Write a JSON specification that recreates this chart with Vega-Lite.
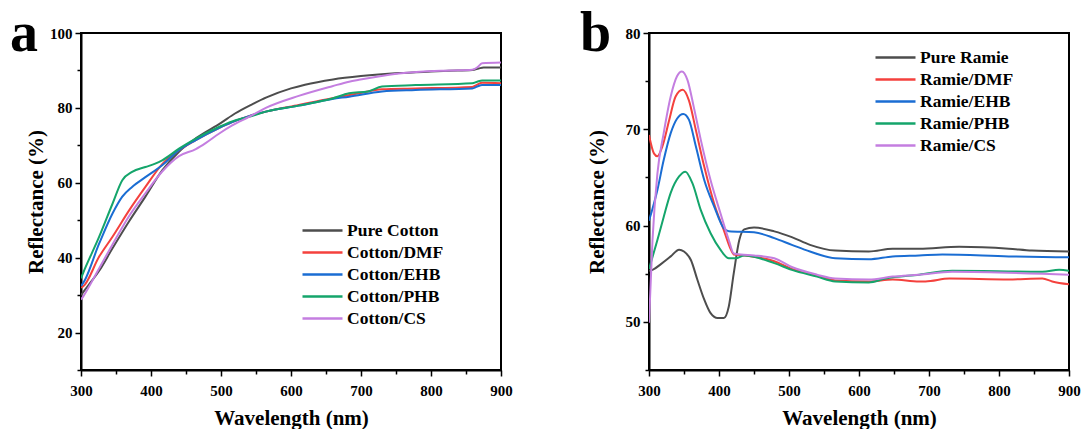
{
  "$schema": "https://vega.github.io/schema/vega-lite/v6.json",
  "background": "white",
  "padding": {"left": 9, "top": 5, "right": 5, "bottom": 0},
  "config": {
    "font": "Liberation Serif",
    "view": {"stroke": "black", "strokeWidth": 2},
    "axis": {
      "grid": false,
      "domainColor": "black", "domainWidth": 2,
      "tickColor": "black", "tickWidth": 1.5,
      "labelFont": "Liberation Serif", "labelFontSize": 15, "labelFontWeight": "bold", "labelColor": "black",
      "titleFont": "Liberation Serif", "titleFontSize": 21, "titleFontWeight": "bold", "titleColor": "black"
    },
    "legend": {
      "orient": "none", "title": null, "padding": 0,
      "symbolType": "M-2,0H2", "symbolSize": 400, "symbolStrokeWidth": 2.5,
      "labelFont": "Liberation Serif", "labelFontSize": 17.5, "labelFontWeight": "bold", "labelColor": "black",
      "rowPadding": 2, "labelOffset": 13
    }
  },
  "datasets": {
    "cotton": [
      {"sample": "Pure Cotton", "nm": 300, "R": 30.0}, {"sample": "Pure Cotton", "nm": 310, "R": 32.5}, {"sample": "Pure Cotton", "nm": 326, "R": 36.5}, {"sample": "Pure Cotton", "nm": 345, "R": 42.5}, {"sample": "Pure Cotton", "nm": 369, "R": 49.8}, {"sample": "Pure Cotton", "nm": 392, "R": 56.3}, {"sample": "Pure Cotton", "nm": 416, "R": 63.3}, {"sample": "Pure Cotton", "nm": 440, "R": 68.3}, {"sample": "Pure Cotton", "nm": 465, "R": 72.0}, {"sample": "Pure Cotton", "nm": 500, "R": 76.0}, {"sample": "Pure Cotton", "nm": 520, "R": 78.5}, {"sample": "Pure Cotton", "nm": 545, "R": 81.0}, {"sample": "Pure Cotton", "nm": 565, "R": 82.8}, {"sample": "Pure Cotton", "nm": 600, "R": 85.2}, {"sample": "Pure Cotton", "nm": 620, "R": 86.2}, {"sample": "Pure Cotton", "nm": 660, "R": 87.6}, {"sample": "Pure Cotton", "nm": 700, "R": 88.5}, {"sample": "Pure Cotton", "nm": 754, "R": 89.3}, {"sample": "Pure Cotton", "nm": 800, "R": 89.7}, {"sample": "Pure Cotton", "nm": 826, "R": 89.9}, {"sample": "Pure Cotton", "nm": 859, "R": 90.1}, {"sample": "Pure Cotton", "nm": 868, "R": 90.5}, {"sample": "Pure Cotton", "nm": 875, "R": 90.8}, {"sample": "Pure Cotton", "nm": 900, "R": 90.8},
      {"sample": "Cotton/DMF", "nm": 300, "R": 32.0}, {"sample": "Cotton/DMF", "nm": 303, "R": 32.3}, {"sample": "Cotton/DMF", "nm": 326, "R": 40.3}, {"sample": "Cotton/DMF", "nm": 345, "R": 45.6}, {"sample": "Cotton/DMF", "nm": 369, "R": 52.7}, {"sample": "Cotton/DMF", "nm": 392, "R": 58.9}, {"sample": "Cotton/DMF", "nm": 416, "R": 65.0}, {"sample": "Cotton/DMF", "nm": 440, "R": 68.7}, {"sample": "Cotton/DMF", "nm": 464, "R": 71.4}, {"sample": "Cotton/DMF", "nm": 497, "R": 74.6}, {"sample": "Cotton/DMF", "nm": 516, "R": 76.2}, {"sample": "Cotton/DMF", "nm": 540, "R": 77.8}, {"sample": "Cotton/DMF", "nm": 564, "R": 79.0}, {"sample": "Cotton/DMF", "nm": 611, "R": 80.8}, {"sample": "Cotton/DMF", "nm": 659, "R": 82.6}, {"sample": "Cotton/DMF", "nm": 697, "R": 83.9}, {"sample": "Cotton/DMF", "nm": 730, "R": 85.0}, {"sample": "Cotton/DMF", "nm": 778, "R": 85.2}, {"sample": "Cotton/DMF", "nm": 859, "R": 85.6}, {"sample": "Cotton/DMF", "nm": 866, "R": 86.2}, {"sample": "Cotton/DMF", "nm": 873, "R": 86.7}, {"sample": "Cotton/DMF", "nm": 900, "R": 86.6},
      {"sample": "Cotton/EHB", "nm": 300, "R": 32.5}, {"sample": "Cotton/EHB", "nm": 303, "R": 33.2}, {"sample": "Cotton/EHB", "nm": 326, "R": 43.8}, {"sample": "Cotton/EHB", "nm": 345, "R": 51.8}, {"sample": "Cotton/EHB", "nm": 359, "R": 56.3}, {"sample": "Cotton/EHB", "nm": 373, "R": 58.9}, {"sample": "Cotton/EHB", "nm": 392, "R": 61.5}, {"sample": "Cotton/EHB", "nm": 416, "R": 64.7}, {"sample": "Cotton/EHB", "nm": 440, "R": 68.7}, {"sample": "Cotton/EHB", "nm": 464, "R": 71.4}, {"sample": "Cotton/EHB", "nm": 497, "R": 74.6}, {"sample": "Cotton/EHB", "nm": 516, "R": 76.2}, {"sample": "Cotton/EHB", "nm": 540, "R": 77.8}, {"sample": "Cotton/EHB", "nm": 564, "R": 79.0}, {"sample": "Cotton/EHB", "nm": 611, "R": 80.6}, {"sample": "Cotton/EHB", "nm": 659, "R": 82.4}, {"sample": "Cotton/EHB", "nm": 683, "R": 83.0}, {"sample": "Cotton/EHB", "nm": 730, "R": 84.4}, {"sample": "Cotton/EHB", "nm": 778, "R": 84.8}, {"sample": "Cotton/EHB", "nm": 859, "R": 85.2}, {"sample": "Cotton/EHB", "nm": 866, "R": 85.7}, {"sample": "Cotton/EHB", "nm": 873, "R": 86.1}, {"sample": "Cotton/EHB", "nm": 900, "R": 86.1},
      {"sample": "Cotton/PHB", "nm": 300, "R": 34.5}, {"sample": "Cotton/PHB", "nm": 303, "R": 35.9}, {"sample": "Cotton/PHB", "nm": 326, "R": 45.6}, {"sample": "Cotton/PHB", "nm": 345, "R": 54.4}, {"sample": "Cotton/PHB", "nm": 359, "R": 60.7}, {"sample": "Cotton/PHB", "nm": 373, "R": 62.9}, {"sample": "Cotton/PHB", "nm": 392, "R": 64.2}, {"sample": "Cotton/PHB", "nm": 406, "R": 65.1}, {"sample": "Cotton/PHB", "nm": 416, "R": 66.0}, {"sample": "Cotton/PHB", "nm": 440, "R": 69.1}, {"sample": "Cotton/PHB", "nm": 464, "R": 71.8}, {"sample": "Cotton/PHB", "nm": 497, "R": 74.9}, {"sample": "Cotton/PHB", "nm": 516, "R": 76.4}, {"sample": "Cotton/PHB", "nm": 540, "R": 77.6}, {"sample": "Cotton/PHB", "nm": 564, "R": 79.0}, {"sample": "Cotton/PHB", "nm": 611, "R": 80.6}, {"sample": "Cotton/PHB", "nm": 659, "R": 82.5}, {"sample": "Cotton/PHB", "nm": 683, "R": 83.9}, {"sample": "Cotton/PHB", "nm": 710, "R": 84.4}, {"sample": "Cotton/PHB", "nm": 730, "R": 85.7}, {"sample": "Cotton/PHB", "nm": 778, "R": 86.1}, {"sample": "Cotton/PHB", "nm": 859, "R": 86.6}, {"sample": "Cotton/PHB", "nm": 866, "R": 87.0}, {"sample": "Cotton/PHB", "nm": 873, "R": 87.3}, {"sample": "Cotton/PHB", "nm": 900, "R": 87.3},
      {"sample": "Cotton/CS", "nm": 300, "R": 28.8}, {"sample": "Cotton/CS", "nm": 303, "R": 29.6}, {"sample": "Cotton/CS", "nm": 326, "R": 37.2}, {"sample": "Cotton/CS", "nm": 345, "R": 43.5}, {"sample": "Cotton/CS", "nm": 369, "R": 51.2}, {"sample": "Cotton/CS", "nm": 392, "R": 57.2}, {"sample": "Cotton/CS", "nm": 416, "R": 63.0}, {"sample": "Cotton/CS", "nm": 440, "R": 67.1}, {"sample": "Cotton/CS", "nm": 464, "R": 69.0}, {"sample": "Cotton/CS", "nm": 478, "R": 70.6}, {"sample": "Cotton/CS", "nm": 497, "R": 73.1}, {"sample": "Cotton/CS", "nm": 516, "R": 75.3}, {"sample": "Cotton/CS", "nm": 540, "R": 77.6}, {"sample": "Cotton/CS", "nm": 564, "R": 80.0}, {"sample": "Cotton/CS", "nm": 611, "R": 83.2}, {"sample": "Cotton/CS", "nm": 659, "R": 85.8}, {"sample": "Cotton/CS", "nm": 683, "R": 87.0}, {"sample": "Cotton/CS", "nm": 697, "R": 87.5}, {"sample": "Cotton/CS", "nm": 754, "R": 89.2}, {"sample": "Cotton/CS", "nm": 826, "R": 90.0}, {"sample": "Cotton/CS", "nm": 859, "R": 90.2}, {"sample": "Cotton/CS", "nm": 866, "R": 90.8}, {"sample": "Cotton/CS", "nm": 873, "R": 91.9}, {"sample": "Cotton/CS", "nm": 900, "R": 92.1}
    ],
    "ramie": [
      {"sample": "Pure Ramie", "nm": 300, "R": 55.3}, {"sample": "Pure Ramie", "nm": 305, "R": 55.4}, {"sample": "Pure Ramie", "nm": 317, "R": 56.0}, {"sample": "Pure Ramie", "nm": 331, "R": 56.8}, {"sample": "Pure Ramie", "nm": 343, "R": 57.5}, {"sample": "Pure Ramie", "nm": 350, "R": 57.3}, {"sample": "Pure Ramie", "nm": 360, "R": 56.4}, {"sample": "Pure Ramie", "nm": 369, "R": 54.4}, {"sample": "Pure Ramie", "nm": 379, "R": 52.3}, {"sample": "Pure Ramie", "nm": 388, "R": 50.9}, {"sample": "Pure Ramie", "nm": 398, "R": 50.4}, {"sample": "Pure Ramie", "nm": 407, "R": 50.4}, {"sample": "Pure Ramie", "nm": 414, "R": 51.6}, {"sample": "Pure Ramie", "nm": 421, "R": 55.0}, {"sample": "Pure Ramie", "nm": 429, "R": 58.5}, {"sample": "Pure Ramie", "nm": 436, "R": 59.6}, {"sample": "Pure Ramie", "nm": 450, "R": 59.8}, {"sample": "Pure Ramie", "nm": 479, "R": 59.4}, {"sample": "Pure Ramie", "nm": 504, "R": 58.8}, {"sample": "Pure Ramie", "nm": 530, "R": 58.0}, {"sample": "Pure Ramie", "nm": 566, "R": 57.4}, {"sample": "Pure Ramie", "nm": 614, "R": 57.3}, {"sample": "Pure Ramie", "nm": 648, "R": 57.6}, {"sample": "Pure Ramie", "nm": 686, "R": 57.6}, {"sample": "Pure Ramie", "nm": 743, "R": 57.8}, {"sample": "Pure Ramie", "nm": 814, "R": 57.6}, {"sample": "Pure Ramie", "nm": 847, "R": 57.4}, {"sample": "Pure Ramie", "nm": 900, "R": 57.3},
      {"sample": "Ramie/DMF", "nm": 300, "R": 69.4}, {"sample": "Ramie/DMF", "nm": 307, "R": 67.5}, {"sample": "Ramie/DMF", "nm": 312, "R": 67.2}, {"sample": "Ramie/DMF", "nm": 319, "R": 68.2}, {"sample": "Ramie/DMF", "nm": 329, "R": 71.0}, {"sample": "Ramie/DMF", "nm": 338, "R": 73.4}, {"sample": "Ramie/DMF", "nm": 348, "R": 74.1}, {"sample": "Ramie/DMF", "nm": 357, "R": 73.0}, {"sample": "Ramie/DMF", "nm": 367, "R": 69.9}, {"sample": "Ramie/DMF", "nm": 379, "R": 66.1}, {"sample": "Ramie/DMF", "nm": 393, "R": 62.3}, {"sample": "Ramie/DMF", "nm": 407, "R": 59.5}, {"sample": "Ramie/DMF", "nm": 417, "R": 57.5}, {"sample": "Ramie/DMF", "nm": 421, "R": 57.0}, {"sample": "Ramie/DMF", "nm": 436, "R": 56.9}, {"sample": "Ramie/DMF", "nm": 479, "R": 56.3}, {"sample": "Ramie/DMF", "nm": 504, "R": 55.5}, {"sample": "Ramie/DMF", "nm": 540, "R": 54.8}, {"sample": "Ramie/DMF", "nm": 566, "R": 54.3}, {"sample": "Ramie/DMF", "nm": 614, "R": 54.2}, {"sample": "Ramie/DMF", "nm": 648, "R": 54.4}, {"sample": "Ramie/DMF", "nm": 686, "R": 54.2}, {"sample": "Ramie/DMF", "nm": 695, "R": 54.2}, {"sample": "Ramie/DMF", "nm": 729, "R": 54.5}, {"sample": "Ramie/DMF", "nm": 814, "R": 54.4}, {"sample": "Ramie/DMF", "nm": 862, "R": 54.5}, {"sample": "Ramie/DMF", "nm": 876, "R": 54.2}, {"sample": "Ramie/DMF", "nm": 900, "R": 53.9},
      {"sample": "Ramie/EHB", "nm": 300, "R": 60.5}, {"sample": "Ramie/EHB", "nm": 312, "R": 63.7}, {"sample": "Ramie/EHB", "nm": 321, "R": 66.8}, {"sample": "Ramie/EHB", "nm": 331, "R": 69.6}, {"sample": "Ramie/EHB", "nm": 340, "R": 71.1}, {"sample": "Ramie/EHB", "nm": 349, "R": 71.6}, {"sample": "Ramie/EHB", "nm": 357, "R": 71.0}, {"sample": "Ramie/EHB", "nm": 367, "R": 68.2}, {"sample": "Ramie/EHB", "nm": 379, "R": 64.7}, {"sample": "Ramie/EHB", "nm": 393, "R": 62.0}, {"sample": "Ramie/EHB", "nm": 407, "R": 59.7}, {"sample": "Ramie/EHB", "nm": 414, "R": 59.4}, {"sample": "Ramie/EHB", "nm": 450, "R": 59.3}, {"sample": "Ramie/EHB", "nm": 479, "R": 58.7}, {"sample": "Ramie/EHB", "nm": 504, "R": 58.0}, {"sample": "Ramie/EHB", "nm": 530, "R": 57.3}, {"sample": "Ramie/EHB", "nm": 566, "R": 56.6}, {"sample": "Ramie/EHB", "nm": 614, "R": 56.5}, {"sample": "Ramie/EHB", "nm": 648, "R": 56.8}, {"sample": "Ramie/EHB", "nm": 686, "R": 56.9}, {"sample": "Ramie/EHB", "nm": 719, "R": 57.0}, {"sample": "Ramie/EHB", "nm": 814, "R": 56.8}, {"sample": "Ramie/EHB", "nm": 900, "R": 56.7},
      {"sample": "Ramie/PHB", "nm": 300, "R": 55.5}, {"sample": "Ramie/PHB", "nm": 312, "R": 58.5}, {"sample": "Ramie/PHB", "nm": 321, "R": 60.9}, {"sample": "Ramie/PHB", "nm": 331, "R": 63.4}, {"sample": "Ramie/PHB", "nm": 343, "R": 65.1}, {"sample": "Ramie/PHB", "nm": 352, "R": 65.6}, {"sample": "Ramie/PHB", "nm": 362, "R": 64.4}, {"sample": "Ramie/PHB", "nm": 374, "R": 61.6}, {"sample": "Ramie/PHB", "nm": 388, "R": 59.2}, {"sample": "Ramie/PHB", "nm": 402, "R": 57.5}, {"sample": "Ramie/PHB", "nm": 414, "R": 56.6}, {"sample": "Ramie/PHB", "nm": 424, "R": 56.6}, {"sample": "Ramie/PHB", "nm": 436, "R": 56.9}, {"sample": "Ramie/PHB", "nm": 479, "R": 56.1}, {"sample": "Ramie/PHB", "nm": 504, "R": 55.4}, {"sample": "Ramie/PHB", "nm": 540, "R": 54.7}, {"sample": "Ramie/PHB", "nm": 566, "R": 54.2}, {"sample": "Ramie/PHB", "nm": 614, "R": 54.1}, {"sample": "Ramie/PHB", "nm": 638, "R": 54.5}, {"sample": "Ramie/PHB", "nm": 686, "R": 54.9}, {"sample": "Ramie/PHB", "nm": 733, "R": 55.3}, {"sample": "Ramie/PHB", "nm": 862, "R": 55.2}, {"sample": "Ramie/PHB", "nm": 886, "R": 55.4}, {"sample": "Ramie/PHB", "nm": 900, "R": 55.3},
      {"sample": "Ramie/CS", "nm": 300, "R": 49.9}, {"sample": "Ramie/CS", "nm": 305, "R": 58.5}, {"sample": "Ramie/CS", "nm": 312, "R": 65.4}, {"sample": "Ramie/CS", "nm": 321, "R": 69.6}, {"sample": "Ramie/CS", "nm": 331, "R": 73.4}, {"sample": "Ramie/CS", "nm": 340, "R": 75.5}, {"sample": "Ramie/CS", "nm": 347, "R": 76.0}, {"sample": "Ramie/CS", "nm": 355, "R": 75.1}, {"sample": "Ramie/CS", "nm": 364, "R": 72.3}, {"sample": "Ramie/CS", "nm": 374, "R": 68.9}, {"sample": "Ramie/CS", "nm": 388, "R": 64.7}, {"sample": "Ramie/CS", "nm": 402, "R": 61.3}, {"sample": "Ramie/CS", "nm": 414, "R": 58.5}, {"sample": "Ramie/CS", "nm": 421, "R": 57.1}, {"sample": "Ramie/CS", "nm": 431, "R": 57.0}, {"sample": "Ramie/CS", "nm": 450, "R": 56.9}, {"sample": "Ramie/CS", "nm": 479, "R": 56.6}, {"sample": "Ramie/CS", "nm": 504, "R": 55.7}, {"sample": "Ramie/CS", "nm": 540, "R": 54.9}, {"sample": "Ramie/CS", "nm": 566, "R": 54.5}, {"sample": "Ramie/CS", "nm": 614, "R": 54.4}, {"sample": "Ramie/CS", "nm": 648, "R": 54.7}, {"sample": "Ramie/CS", "nm": 686, "R": 54.9}, {"sample": "Ramie/CS", "nm": 733, "R": 55.2}, {"sample": "Ramie/CS", "nm": 862, "R": 55.0}, {"sample": "Ramie/CS", "nm": 900, "R": 54.9}
    ]
  },
  "bounds": "flush",
  "spacing": 148,
  "resolve": {"scale": {"color": "independent"}, "legend": {"color": "independent"}},
  "hconcat": [
    {
      "width": 420, "height": 337,
      "title": {"text": "a", "anchor": "start", "frame": "group", "font": "Liberation Serif", "fontSize": 56, "fontWeight": "bold", "color": "black", "baseline": "alphabetic", "offset": -64, "dx": -71, "dy": 17},
      "data": {"name": "cotton"},
      "mark": {"type": "line", "strokeWidth": 2, "interpolate": "monotone", "clip": true},
      "encoding": {
        "x": {"field": "nm", "type": "quantitative", "scale": {"domain": [300, 900], "nice": false, "zero": false},
          "axis": {"title": "Wavelength (nm)", "values": [300, 350, 400, 450, 500, 550, 600, 650, 700, 750, 800, 850, 900],
            "labelExpr": "datum.value % 100 === 0 ? datum.label : ''", "labelFlush": false, "labelPadding": 7, "titlePadding": 9,
            "tickSize": {"condition": {"test": "datum.value % 100 === 0", "value": 6}, "value": 4}}},
        "y": {"field": "R", "type": "quantitative", "scale": {"domain": [10, 100], "nice": false, "zero": false},
          "axis": {"title": "Reflectance (%)", "values": [10, 20, 30, 40, 50, 60, 70, 80, 90, 100],
            "labelExpr": "datum.value % 20 === 0 ? datum.label : ''", "labelPadding": 3, "titlePadding": 3,
            "tickSize": {"condition": {"test": "datum.value % 20 === 0", "value": 6}, "value": 4}}},
        "color": {"field": "sample", "type": "nominal",
          "scale": {"domain": ["Pure Cotton", "Cotton/DMF", "Cotton/EHB", "Cotton/PHB", "Cotton/CS"], "range": ["#4d4d4d", "#f4413d", "#1a6dd3", "#14a56b", "#c47ee0"]},
          "legend": {"legendX": 230, "legendY": 186}}
      }
    },
    {
      "width": 420, "height": 337,
      "title": {"text": "b", "anchor": "start", "frame": "group", "font": "Liberation Serif", "fontSize": 56, "fontWeight": "bold", "color": "black", "baseline": "alphabetic", "offset": -64, "dx": -69, "dy": 17},
      "data": {"name": "ramie"},
      "mark": {"type": "line", "strokeWidth": 2, "interpolate": "monotone", "clip": true},
      "encoding": {
        "x": {"field": "nm", "type": "quantitative", "scale": {"domain": [300, 900], "nice": false, "zero": false},
          "axis": {"title": "Wavelength (nm)", "values": [300, 350, 400, 450, 500, 550, 600, 650, 700, 750, 800, 850, 900],
            "labelExpr": "datum.value % 100 === 0 ? datum.label : ''", "labelFlush": false, "labelPadding": 7, "titlePadding": 9,
            "tickSize": {"condition": {"test": "datum.value % 100 === 0", "value": 6}, "value": 4}}},
        "y": {"field": "R", "type": "quantitative", "scale": {"domain": [45, 80], "nice": false, "zero": false},
          "axis": {"title": "Reflectance (%)", "values": [45, 50, 55, 60, 65, 70, 75, 80],
            "labelExpr": "datum.value % 10 === 0 ? datum.label : ''", "labelPadding": 3, "titlePadding": 18,
            "tickSize": {"condition": {"test": "datum.value % 10 === 0", "value": 6}, "value": 4}}},
        "color": {"field": "sample", "type": "nominal",
          "scale": {"domain": ["Pure Ramie", "Ramie/DMF", "Ramie/EHB", "Ramie/PHB", "Ramie/CS"], "range": ["#4d4d4d", "#f4413d", "#1a6dd3", "#14a56b", "#c47ee0"]},
          "legend": {"legendX": 235, "legendY": 13}}
      }
    }
  ]
}
